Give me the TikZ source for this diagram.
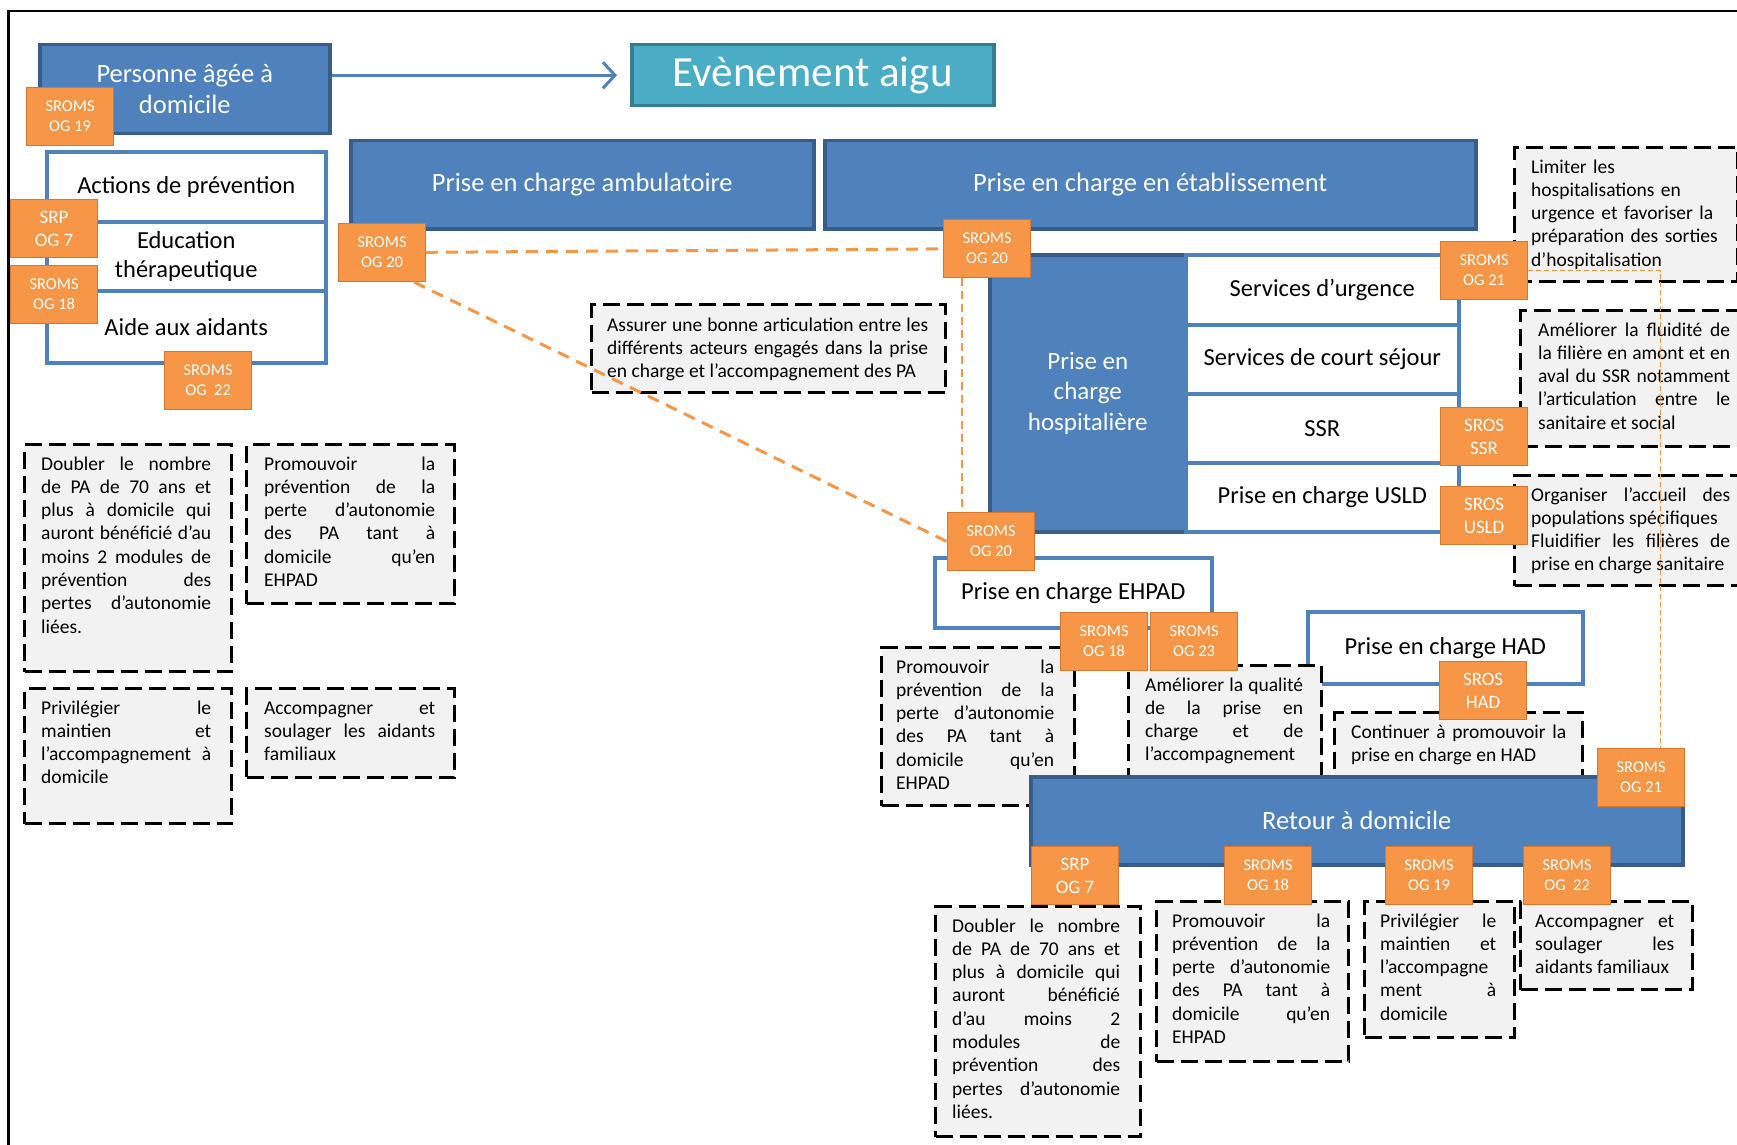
\documentclass[tikz,border=0pt]{standalone}
\usepackage{fontspec}
\setmainfont{Carlito}
\usepackage{tikz}
\usetikzlibrary{arrows, arrows.meta, positioning, shapes}

\definecolor{bleu}{HTML}{4F81BD}
\definecolor{bleufonce}{HTML}{385D8A}
\definecolor{turq}{HTML}{4BACC6}
\definecolor{turqfonce}{HTML}{357D91}
\definecolor{orangetag}{HTML}{F79646}
\definecolor{orangebord}{HTML}{D9772E}
\definecolor{gris}{HTML}{F2F2F2}

\begin{document}
\begin{tikzpicture}[x=1pt, y=-1pt,
	bloc/.style={draw=bleufonce, fill=bleu, line width=3.5pt, text=white, align=center, anchor=north west, inner sep=0pt, font=\fontsize{26.5}{31}\selectfont},
	ligne/.style={draw=bleu, fill=white, line width=3.5pt, align=center, anchor=north west, inner sep=0pt, minimum width=273pt, font=\fontsize{24.5}{29}\selectfont},
	sroms/.style={draw=orangebord, fill=orangetag, line width=1.2pt, text=white, align=center, anchor=north west, inner sep=0pt, minimum width=87pt, minimum height=58pt, font=\fontsize{16.5}{20}\selectfont},
	sros/.style={sroms, font=\fontsize{19}{23}\selectfont},
	objectif/.style={draw=black, fill=gris, line width=3pt, dash pattern=on 17pt off 7pt, anchor=north west, inner sep=0pt},
	texte/.style={anchor=base west, inner sep=0pt, align=justify, font=\fontsize{19.5}{23.3}\selectfont, execute at begin node={\tolerance=10000\hyphenpenalty=10000}},
	lien/.style={draw=orangetag, line width=3pt, dash pattern=on 12pt off 8pt},
	lienfin/.style={draw=orangetag, line width=1pt, dash pattern=on 5pt off 3pt},
	fleche/.style={draw=bleu, line width=3pt, -{Straight Barb[length=12pt, width=26pt]}, shorten >=13pt}
]

\useasboundingbox (0,0) rectangle (1737,1145);

\draw [line width=2.5pt] (1737,11) -- (8.5,11) -- (8.5,1145);

% domicile et evenement
\node [bloc, minimum width=290pt, minimum height=89pt] (pa) at (38,43) {
	Personne âgée à \\
	domicile
};

\node [bloc, draw=turqfonce, fill=turq, minimum width=362pt, minimum height=61pt, font=\fontsize{43}{50}\selectfont] (aigu) at (630,43) {Evènement aigu};

\draw [fleche] (pa.east |- aigu.west) -- (aigu.west);

\node [ligne, minimum width=279pt, minimum height=70pt] (prev) at (45,150) {Actions de prévention};
\node [ligne, minimum width=279pt, minimum height=69pt] (educ) at (45,220) {Education \\ thérapeutique};
\node [ligne, minimum width=279pt, minimum height=72pt] (aide) at (45,289) {Aide aux aidants};

% prises en charge
\node [bloc, minimum width=463pt, minimum height=88pt] (amb) at (349,139) {Prise en charge ambulatoire};
\node [bloc, minimum width=651pt, minimum height=88pt] (etab) at (823,139) {Prise en charge en établissement};

\node [bloc, minimum width=196pt, minimum height=277pt, font=\fontsize{25}{30.5}\selectfont] (hosp) at (988,253) {
	Prise en \\
	charge \\
	hospitalière
};

\node [ligne, minimum height=70pt] (urg) at (1184,253) {Services d’urgence};
\node [ligne, minimum height=69pt] (court) at (1184,323) {Services de court séjour};
\node [ligne, minimum height=69pt] (ssr) at (1184,392) {SSR};
\node [ligne, minimum height=69pt] (usld) at (1184,461) {Prise en charge USLD};

\node [ligne, minimum width=277pt, minimum height=70pt] (ehpad) at (933,556) {Prise en charge EHPAD};
\node [ligne, minimum width=275pt, minimum height=72pt] (had) at (1306,610) {Prise en charge HAD};

% objectifs
\node [objectif, minimum width=207pt, minimum height=227pt] (doubA) at (23,443) {};
\node [texte, text width=170pt] (doubA-t) at ([xshift=18pt, yshift=-27pt]doubA.north west) {
	Doubler le nombre \linebreak
	de PA de 70 ans et \linebreak
	plus à domicile qui \linebreak
	auront bénéficié d’au \linebreak
	moins 2 modules de \linebreak
	prévention des \linebreak
	pertes d’autonomie \linebreak
	liées.
};

\node [objectif, minimum width=208pt, minimum height=159pt] (promA) at (245,443) {};
\node [texte, text width=171pt] (promA-t) at ([xshift=19pt, yshift=-27pt]promA.north west) {
	Promouvoir la \linebreak
	prévention de la \linebreak
	perte d’autonomie \linebreak
	des PA tant à \linebreak
	domicile qu’en \linebreak
	EHPAD
};

\node [objectif, minimum width=207pt, minimum height=135pt] (privA) at (23,687) {};
\node [texte, text width=170pt] (privA-t) at ([xshift=18pt, yshift=-27pt]privA.north west) {
	Privilégier le \linebreak
	maintien et \linebreak
	l’accompagnement à \linebreak
	domicile
};

\node [objectif, minimum width=208pt, minimum height=89pt] (accA) at (245,687) {};
\node [texte, text width=171pt] (accA-t) at ([xshift=19pt, yshift=-27pt]accA.north west) {
	Accompagner et \linebreak
	soulager les aidants \linebreak
	familiaux
};

\node [objectif, minimum width=354pt, minimum height=88pt] (assur) at (590,303) {};
\node [texte, text width=321pt] (assur-t) at ([xshift=17pt, yshift=-28pt]assur.north west) {
	Assurer une bonne articulation entre les \linebreak
	différents acteurs engagés dans la prise \linebreak
	en charge et l’accompagnement des PA
};

\node [objectif, minimum width=223pt, minimum height=134pt] (limit) at (1513,146) {};
\node [texte, align=left, text width=195pt] (limit-t) at ([xshift=18pt, yshift=-27pt]limit.north west) {
	Limiter les \\
	hospitalisations en \\
	urgence et favoriser la \\
	préparation des sorties \\
	d’hospitalisation
};

\node [objectif, minimum width=223pt, minimum height=136pt] (fluid) at (1519,309) {};
\node [texte, text width=192pt] (fluid-t) at ([xshift=19pt, yshift=-27pt]fluid.north west) {
	Améliorer la fluidité de \linebreak
	la filière en amont et en \linebreak
	aval du SSR notamment \linebreak
	l’articulation entre le \linebreak
	sanitaire et social
};

\node [objectif, minimum width=229pt, minimum height=110pt] (organ) at (1513,474) {};
\node [texte, text width=199pt] (organ-t) at ([xshift=18pt, yshift=-27pt]organ.north west) {
	Organiser l’accueil des \linebreak
	populations spécifiques \\
	Fluidifier les filières de \linebreak
	prise en charge sanitaire
};

\node [objectif, minimum width=193pt, minimum height=158pt] (promB) at (880,646) {};
\node [texte, text width=158pt] (promB-t) at ([xshift=16pt, yshift=-27pt]promB.north west) {
	Promouvoir la \linebreak
	prévention de la \linebreak
	perte d’autonomie \linebreak
	des PA tant à \linebreak
	domicile qu’en \linebreak
	EHPAD
};

\node [objectif, minimum width=193pt, minimum height=136pt] (qualit) at (1127,664) {};
\node [texte, text width=158pt] (qualit-t) at ([xshift=18pt, yshift=-27pt]qualit.north west) {
	Améliorer la qualité \linebreak
	de la prise en \linebreak
	charge et de \linebreak
	l’accompagnement
};

\node [objectif, minimum width=248pt, minimum height=89pt] (hadobj) at (1333,711) {};
\node [texte, text width=215pt] (hadobj-t) at ([xshift=18pt, yshift=-27pt]hadobj.north west) {
	Continuer à promouvoir la \linebreak
	prise en charge en HAD
};

% retour
\node [bloc, minimum width=652pt, minimum height=88pt] (retour) at (1029,775) {Retour à domicile};

\node [objectif, minimum width=205pt, minimum height=230pt] (doubC) at (934,905) {};
\node [texte, text width=168pt] (doubC-t) at ([xshift=18pt, yshift=-27pt]doubC.north west) {
	Doubler le nombre \linebreak
	de PA de 70 ans et \linebreak
	plus à domicile qui \linebreak
	auront bénéficié \linebreak
	d’au moins 2 \linebreak
	modules de \linebreak
	prévention des \linebreak
	pertes d’autonomie \linebreak
	liées.
};

\node [objectif, minimum width=192pt, minimum height=160pt] (promC) at (1155,900) {};
\node [texte, text width=158pt] (promC-t) at ([xshift=17pt, yshift=-27pt]promC.north west) {
	Promouvoir la \linebreak
	prévention de la \linebreak
	perte d’autonomie \linebreak
	des PA tant à \linebreak
	domicile qu’en \linebreak
	EHPAD
};

\node [objectif, minimum width=150pt, minimum height=136pt] (privC) at (1363,900) {};
\node [texte, text width=116pt] (privC-t) at ([xshift=17pt, yshift=-27pt]privC.north west) {
	Privilégier le \linebreak
	maintien et \linebreak
	l’accompagne\linebreak
	ment à \linebreak
	domicile
};

\node [objectif, minimum width=172pt, minimum height=88pt] (accC) at (1519,900) {};
\node [texte, text width=139pt] (accC-t) at ([xshift=16pt, yshift=-27pt]accC.north west) {
	Accompagner et \linebreak
	soulager les \linebreak
	aidants familiaux
};

% tags
\node [sroms] (og19a) at (26,87) {SROMS \\ OG 19};
\node [sros] (srp7a) at (10,199) {SRP \\ OG 7};
\node [sroms] (og18a) at (10,265) {SROMS \\ OG 18};
\node [sroms] (og22a) at (164,351) {SROMS \\ OG~~22};
\node [sroms] (og20a) at (338,223) {SROMS \\ OG 20};
\node [sroms] (og20b) at (943,219) {SROMS \\ OG 20};
\node [sroms] (og20c) at (947,512) {SROMS \\ OG 20};
\node [sroms] (og21a) at (1440,241) {SROMS \\ OG 21};
\node [sros] (sssr) at (1440,407) {SROS \\ SSR};
\node [sros] (susld) at (1440,486) {SROS \\ USLD};
\node [sroms] (og18b) at (1060,612) {SROMS \\ OG 18};
\node [sroms] (og23) at (1150,612) {SROMS \\ OG 23};
\node [sros] (shad) at (1439,661) {SROS \\ HAD};
\node [sroms] (og21b) at (1597,748) {SROMS \\ OG 21};
\node [sros] (srp7b) at (1031,846) {SRP \\ OG 7};
\node [sroms] (og18c) at (1224,846) {SROMS \\ OG 18};
\node [sroms] (og19b) at (1385,846) {SROMS \\ OG 19};
\node [sroms] (og22b) at (1523,846) {SROMS \\ OG~~22};

% liens
\draw [lien] (og20a) -- (og20b);
\draw [lien] ([xshift=-12pt]og20a.south east) -- (og20c.west);
\draw [lien, line width=2pt, dash pattern=on 8pt off 5pt] ([xshift=19pt]og20b.south west) -- ([xshift=19pt]og20b.south west |- og20c.north);
\draw [lienfin] (og21a.east) -| ([xshift=19.5pt]og21b.north);

\end{tikzpicture}
\end{document}
